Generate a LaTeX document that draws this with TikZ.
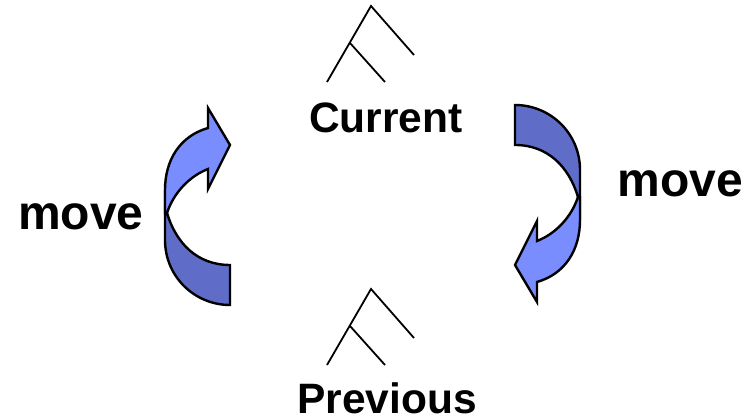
\documentclass[tikz,border=0pt]{standalone}
\usepackage{fontspec}
\setmainfont{Liberation Sans}
\definecolor{armdark}{HTML}{5F6DC9}
\definecolor{armlight}{HTML}{7A8DFF}
\tikzset{
  arm/.style={draw=black,line width=2.4pt,line join=miter,miter limit=10},
  treeline/.style={draw=black,line width=1.8pt},
  lbl/.style={font=\bfseries\fontsize{#1}{#1}\selectfont,text=black,inner sep=0pt,anchor=base}
}
\newcommand{\curvedarrow}{%
  \path[arm,fill=armdark] (230,265) .. controls (197,265) and (176,243) .. (167,213)
     -- (165,190) -- (165,240) .. controls (165,277) and (195,305) .. (230,305) -- cycle;
  \path[arm,fill=armlight] (167,213) .. controls (174,192) and (190,176) .. (208,169)
     -- (208,189) -- (230,145) -- (208,108) -- (208,128)
     .. controls (180,136) and (165,160) .. (165,190) -- (165,213) -- cycle;
}
\begin{document}
\begin{tikzpicture}[x=1pt,y=-1pt]
\useasboundingbox (0,0) rectangle (753,419);
\curvedarrow
\begin{scope}[shift={(745,410)},x=-1pt,y=1pt]
\curvedarrow
\end{scope}
\coordinate (ct) at (371,6);
\coordinate (cl) at (327,82);
\coordinate (cm) at (350,43);
\coordinate (cr) at (414,55);
\coordinate (cb) at (385,82);
\draw[treeline] (cl) -- (ct) -- (cr);
\draw[treeline] (cm) -- (cb);
\coordinate (pt) at (371,289);
\coordinate (pl) at (327,365);
\coordinate (pm) at (350,326);
\coordinate (pr) at (414,338);
\coordinate (pb) at (385,365);
\draw[treeline] (pl) -- (pt) -- (pr);
\draw[treeline] (pm) -- (pb);
\node[lbl=42.5] (current) at (386,132.5) {Current};
\node[lbl=48] (moveL) at (81,230) {move};
\node[lbl=48] (moveR) at (680.5,197) {move};
\node[lbl=42.5] (previous) at (387,414) {Previous};
\end{tikzpicture}
\end{document}
